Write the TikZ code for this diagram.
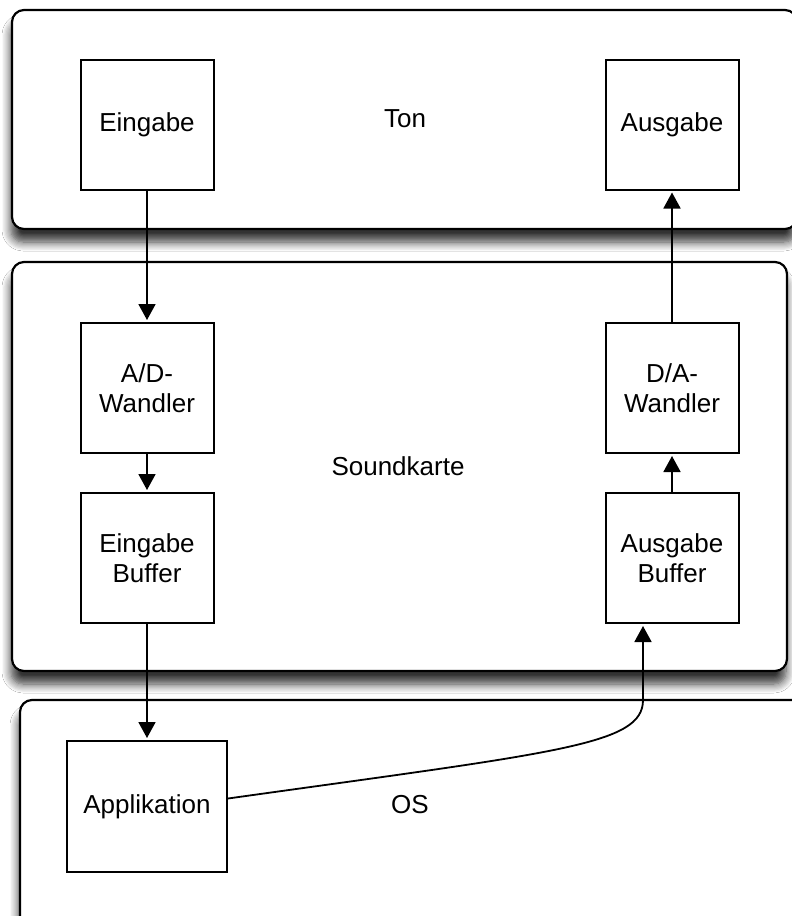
\documentclass[tikz,border=0pt]{standalone}
\usepackage{fontspec}
\setmainfont{Liberation Sans}
\usetikzlibrary{arrows.meta, positioning, shadows.blur}

\tikzset{
  panel/.style={draw=black, line width=1.1pt, rounded corners=6pt, fill=white,
    blur shadow={shadow xshift=-0.5pt, shadow yshift=-6.5pt,
      shadow blur radius=4.5pt, shadow blur steps=8, shadow opacity=80}},
  unit/.style={draw, line width=1pt, fill=white, align=center,
    minimum width=66.5pt, minimum height=65pt, inner sep=0pt},
  link/.style={-{Triangle[length=8pt,width=8.5pt,fill=black]}, line width=0.9pt,
    shorten >=1pt}
}

\begin{document}
\begin{tikzpicture}[x=0.5pt, y=0.5pt, font=\fontsize{13}{15}\selectfont]
\clip (0,0) rectangle (792,-916);
\fill[white] (0,0) rectangle (792,-916);
% Layers
\draw[panel] (20,-700) rectangle (820,-960);
\draw[panel] (12,-262) rectangle (787,-671);
\draw[panel] (12,-10) rectangle (797,-229);
\node (ton) at (405,-119) {Ton};
\node (karte) at (398,-466) {Soundkarte};
\node (os) at (410,-805) {OS};
% Units
\node[unit] (ein)  at (147,-124.5) {Eingabe};
\node[unit] (aus)  at (672,-124.5) {Ausgabe};
\node[unit] (ad)   at (147,-388) {A/D-\\Wandler};
\node[unit] (da)   at (672,-388) {D/A-\\Wandler};
\node[unit] (ebuf) at (147,-558) {Eingabe\\Buffer};
\node[unit] (abuf) at (672,-558) {Ausgabe\\Buffer};
\node[unit, minimum width=80pt, minimum height=65.5pt] (app) at (147,-806.5) {Applikation};
% Signal path
\draw[link] (ein) -- (ad);
\draw[link] (ad) -- (ebuf);
\draw[link] (ebuf) -- (ebuf |- app.north);
\draw[link] (abuf) -- (da);
\draw[link] (da) -- (aus);
\coordinate (back) at ([xshift=-14.5pt]abuf.south);
\draw[link] ([yshift=4pt]app.east) .. controls (560,-752) and (643,-745) .. (643,-700)
  -- (back);
\end{tikzpicture}
\end{document}
